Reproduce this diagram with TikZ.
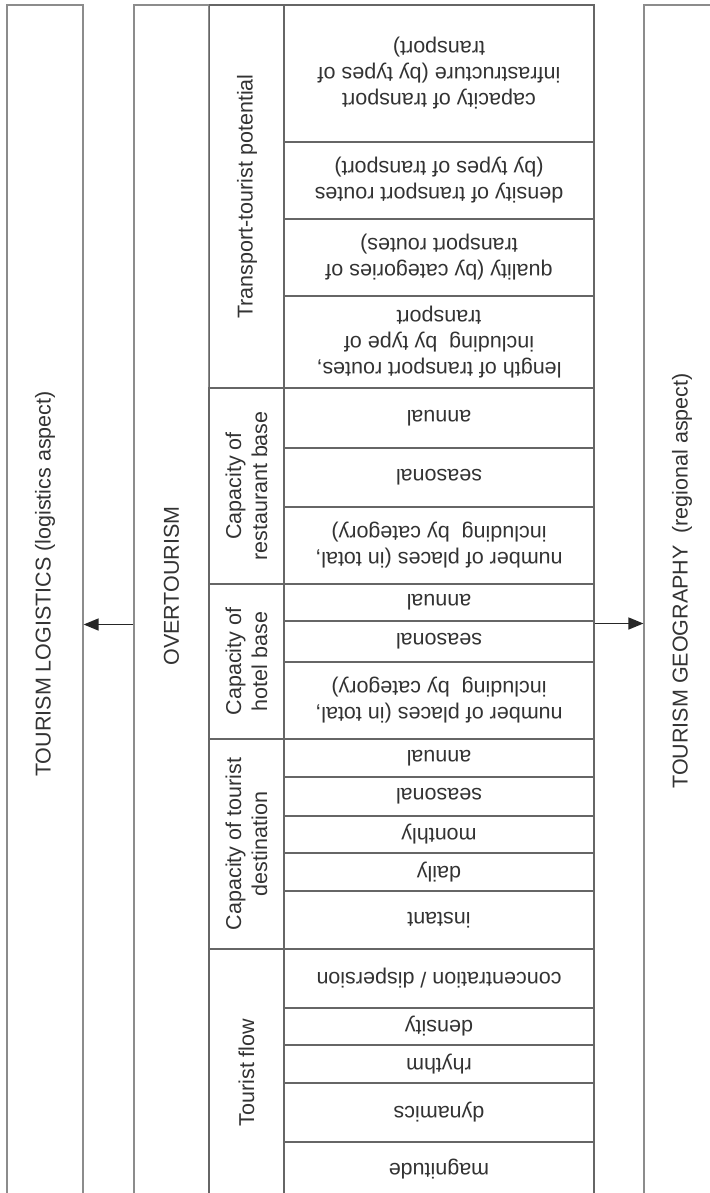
\documentclass[tikz,border=0pt]{standalone}
\usepackage{fontspec}
\setmainfont{Liberation Sans}
\usetikzlibrary{arrows.meta}
\definecolor{gridline}{gray}{0.40}
\definecolor{frameline}{gray}{0.55}
\definecolor{labeltext}{gray}{0.20}
\newcommand{\cellfont}{\fontsize{21.5}{26}\selectfont}
\tikzset{
	frame/.style={draw=frameline, line width=1.2pt, inner sep=0pt, minimum width=76pt, minimum height=1191pt},
	cell/.style={draw=gridline, line width=1.1pt, inner sep=0pt, rotate=180, align=center, minimum width=310pt, font=\cellfont, text=labeltext},
	group/.style={draw=gridline, line width=1.1pt, inner sep=0pt, rotate=90, align=center, minimum height=75pt, font=\cellfont, text=labeltext},
	vtext/.style={rotate=90, inner sep=0pt, font=\cellfont, text=labeltext},
	arr/.style={-{Triangle[length=15pt,width=12pt]}, line width=1.5pt, draw=black!85}
}

\begin{document}
\begin{tikzpicture}[x=1pt, y=-1pt]
\useasboundingbox (0,0) rectangle (709,1193);
\fill[white] (0,0) rectangle (709,1193);

% outer boxes
\node[frame] (logi) at (45,600.5) {};
\node[frame, minimum width=75pt] (over) at (171.5,600.5) {};
\node[frame] (geo) at (682,600.5) {};
\node[vtext] (logilabel) at (45,584) {TOURISM LOGISTICS (logistics aspect)};
\node[vtext] (overlabel) at (171.5,586) {OVERTOURISM};
\node[vtext] (geolabel) at (682,581) {TOURISM GEOGRAPHY~ (regional aspect)};

% Transport-tourist potential
\node[group, minimum width=383pt] (trans) at (247,196.5) {Transport-tourist potential};
\node[cell, minimum height=137pt] (t1) at (439,73.5) {capacity of transport\\infrastructure (by types of\\transport)};
\node[cell, minimum height=77pt] (t2) at (439,180.5) {density of transport routes\\(by types of transport)};
\node[cell, minimum height=77pt] (t3) at (439,257.5) {quality (by categories of\\transport routes)};
\node[cell, minimum height=92pt] (t4) at (439,342) {length of transport routes,\\including~ by type of\\transport};

% restaurant base
\node[group, minimum width=196pt] (rest) at (246.5,486) {Capacity of\\restaurant base};
\node[cell, minimum height=60pt] (r1) at (439,418) {annual};
\node[cell, minimum height=59pt] (r2) at (439,477.5) {seasonal};
\node[cell, minimum height=77pt] (r3) at (439,545.5) {number of places (in total,\\including~ by category)};

% hotel base
\node[group, minimum width=155pt] (hotel) at (246.5,661.5) {Capacity of\\hotel base};
\node[cell, minimum height=37pt] (h1) at (439,602.5) {annual};
\node[cell, minimum height=41pt] (h2) at (439,641.5) {seasonal};
\node[cell, minimum height=77pt] (h3) at (439,700.5) {number of places (in total,\\including~ by category)};

% tourist destination
\node[group, minimum width=210pt] (dest) at (246.5,844) {Capacity of tourist\\destination};
\node[cell, minimum height=38pt] (d1) at (439,758) {annual};
\node[cell, minimum height=39pt] (d2) at (439,796.5) {seasonal};
\node[cell, minimum height=37pt] (d3) at (439,834.5) {monthly};
\node[cell, minimum height=38pt] (d4) at (439,872) {daily};
\node[cell, minimum height=58pt] (d5) at (439,920) {instant};

% Tourist flow
\node[group, minimum width=247pt] (flow) at (246.5,1072.5) {Tourist flow};
\node[cell, minimum height=59pt] (f1) at (439,978.5) {concentration / dispersion};
\node[cell, minimum height=37pt] (f2) at (439,1026.5) {density};
\node[cell, minimum height=38pt] (f3) at (439,1064) {rhythm};
\node[cell, minimum height=59pt] (f4) at (439,1112.5) {dynamics};
\node[cell, minimum height=54pt] (f5) at (439,1169) {magnitude};

% arrows (cells are turned, so h2.west is their right side)
\draw[arr] ([yshift=-24pt]over.west) -- ([yshift=-24pt]logi.east);
\draw[arr] ([yshift=-23pt]geo.west -| h2.west) -- ([yshift=-23pt]geo.west);
\end{tikzpicture}
\end{document}
